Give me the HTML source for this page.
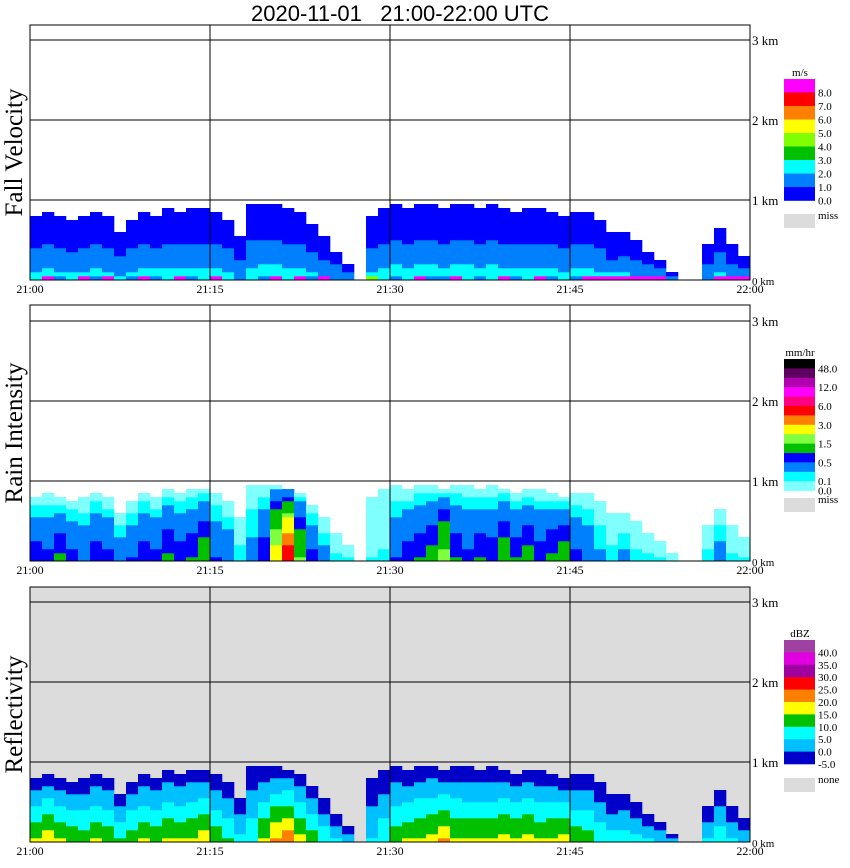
<!DOCTYPE html>
<html><head><meta charset="utf-8"><style>
body{margin:0;background:#fff;}
svg{display:block;}
</style></head><body>
<svg id="chart" width="850" height="868" xmlns="http://www.w3.org/2000/svg" font-family="Liberation Serif, serif">
<text x="400" y="21" text-anchor="middle" font-family="Liberation Sans, sans-serif" font-size="22" style="white-space:pre" xml:space="preserve">2020-11-01   21:00-22:00 UTC</text>
</svg>
<script>
// per-minute data (21:00..21:59)
const minutes = Array.from({length:60},(_,i)=>i);
const tops = [0.8,0.85,0.8,0.75,0.8,0.85,0.8,0.6,0.75,0.85,0.8,0.9,0.85,0.9,0.9,
0.85,0.75,0.5,0.95,0.95,0.95,0.9,0.85,0.7,0.5,0.35,0.2,0,0.8,0.9,
0.95,0.9,0.95,0.95,0.9,0.95,0.95,0.9,0.95,0.9,0.85,0.9,0.9,0.85,0.8,
0.85,0.85,0.75,0.55,0.6,0.45,0.35,0.25,0.1,0,0,0.4,0.65,0.4,0.3];
const fvMid = [2.2,2.3,2.2,2.1,2.2,2.3,2.2,2.0,2.2,2.3,2.3,2.4,2.4,2.3,2.4,
2.4,2.2,2.0,2.3,2.4,2.5,2.4,2.3,2.2,2.1,2.0,1.8,0,2.2,2.3,
2.4,2.3,2.4,2.4,2.3,2.4,2.4,2.3,2.4,2.3,2.3,2.4,2.3,2.3,2.2,
2.3,2.3,2.2,2.1,2.2,2.1,2.0,2.0,1.8,0,0,2.0,2.2,2.1,2.1];
const fvBottom = [2.5,8.5,1.5,2.5,8.5,1.5,8.5,2.5,1.5,8.5,1.5,2.5,8.5,1.5,2.5,
8.5,2.5,1.5,2.5,1.5,8.5,2.5,8.5,1.5,8.5,1.5,1.5,0,4.5,2.0,
1.5,2.5,8.5,1.5,1.5,8.5,2.5,1.5,2.5,8.5,1.5,2.5,8.5,1.5,2.5,
1.5,8.5,8.5,8.5,8.5,8.5,8.5,8.5,1.5,0,0,1.5,8.5,8.5,8.5];
const rainPeak = [0.7,0.6,0.9,0.6,0.45,0.7,0.6,0.4,0.5,0.7,0.6,0.9,0.7,0.8,1.2,
0.5,0.4,0.15,0.3,0.7,2.5,5.0,1.5,0.6,0.3,0.12,0.1,0,0.1,0.12,
0.5,0.7,0.8,1.0,1.8,0.8,0.6,0.8,0.7,1.2,0.8,1.0,0.7,0.9,1.2,
0.6,0.45,0.25,0.15,0.25,0.15,0.12,0.1,0.08,0,0,0.15,0.3,0.12,0.1];
const dbzPeak = [15,17,14,13,12,14,13,10,12,14,13,15,14,15,17,
12,10,6,8,14,19,22,16,12,8,4,2,0,4,8,
12,14,15,16,19,15,14,15,14,16,15,16,14,15,16,
12,11,8,7,7,6,5,3,1,0,0,5,8,4,3];
// colour scales
const fvEdges=[0,1,2,3,4,5,6,7,8];
const fvColors=['#0000ff','#0080ff','#00ffff','#00c000','#80ff00','#ffff00','#ff8000','#ff0000','#ff00ff'];
const rainEdges=[0,0.1,0.2,0.5,0.8,1.5,2,3,4,6,8,12,24,48];
const rainColors=['#80ffff','#00ffff','#0080ff','#0000ff','#00c000','#80ff40','#ffff00','#ff8000','#ff0000','#ff0080','#ff00ff','#b000b0','#600060','#000000'];
const dbzEdges=[-5,0,5,10,15,20,25,30,35,40];
const dbzColors=['#0000c8','#00c0ff','#00ffff','#00c000','#ffff00','#ff8000','#ff0000','#a000a0','#e000e0','#a040a0'];

const NS='http://www.w3.org/2000/svg';
const svg=document.getElementById('chart');
const X0=30,X1=750,KM=80;
const panels=[{top:25,base:280,name:'fall-velocity',title:'Fall Velocity',bg:'#fff'},
{top:305,base:561,name:'rain-intensity',title:'Rain Intensity',bg:'#fff'},
{top:587,base:842,name:'reflectivity',title:'Reflectivity',bg:'#dcdcdc'}];
const xScale=m=>X0+(X1-X0)*m/60;
function mk(tag,attrs,parent){const e=document.createElementNS(NS,tag);for(const k in attrs)e.setAttribute(k,attrs[k]);(parent||svg).appendChild(e);return e;}
function pick(v,edges,colors){let c=null;for(let i=0;i<edges.length;i++){if(v>=edges[i])c=colors[i];}return c;}
const DH=0.05;
panels.forEach((p,pi)=>{
  const g=mk('g',{});
  
  
  const bg=mk('rect',{x:X0,y:p.top,width:X1-X0,height:p.base-p.top,fill:p.bg},g);
  
  
  const yS=h=>p.base-h*KM;
  const cells=mk('g',{},g);
  
  
  minutes.forEach(m=>{
    const top=tops[m]; if(top<=0) return;
    for(let h=0;h<top;h+=DH){
      const f=1-h/top; let v,col;
      if(pi===0){v=(h<0.05)?fvBottom[m]:fvMid[m]*Math.pow(f,1.6)+0.2;col=pick(v,fvEdges,fvColors);}
      else if(pi===1){v=rainPeak[m]*Math.pow(f,1.1);col=pick(v,rainEdges,rainColors);}
      else{v=dbzPeak[m]*Math.pow(f,0.9)-5+6*f;col=pick(v,dbzEdges,dbzColors);}
      if(!col)continue;
      const r=mk('rect',{x:xScale(m),y:yS(h+DH),width:xScale(m+1)-xScale(m)+0.3,height:DH*KM+0.3,fill:col},cells);
      
      
    }
  });
  [1,2,3].forEach(k=>{const l=mk('line',{x1:X0,x2:X1,y1:yS(k),y2:yS(k),stroke:'#000','stroke-width':1},g);
    });
  [15,30,45].forEach(m=>{const l=mk('line',{x1:xScale(m),x2:xScale(m),y1:p.top,y2:p.base,stroke:'#000','stroke-width':1},g);
    });
  const fr=mk('rect',{x:X0,y:p.top,width:X1-X0,height:p.base-p.top,fill:'none',stroke:'#000','stroke-width':1},g);
  
  [0,1,2,3].forEach(k=>{const t=mk('text',{x:752,y:yS(k)+5,'font-size':k===0?11:13},g);t.textContent=k+' km';
    });
  ['21:00','21:15','21:30','21:45','22:00'].forEach((s,i)=>{const t=mk('text',{x:xScale(i*15),y:p.base+13,'font-size':12,'text-anchor':'middle'},g);t.textContent=s;
    });
  const tt=mk('text',{x:0,y:0,'font-size':25,'text-anchor':'middle',transform:`translate(22,${(p.top+p.base)/2}) rotate(-90)`},g);
  tt.textContent=p.title;
});
function legend(name,unit,top,sh,colors,labels,missY,missText){
  const g=mk('g',{});
  const u=mk('text',{x:800,y:top-3,'font-size':11,'text-anchor':'middle'},g);u.textContent=unit;
  
  const n=colors.length;
  colors.slice().reverse().forEach((c,i)=>{const r=mk('rect',{x:784,y:top+i*sh,width:31,height:sh+0.3,fill:c},g);
    });
  labels.forEach(([lab,idx])=>{const t=mk('text',{x:818,y:top+(n-idx)*sh+4,'font-size':11},g);t.textContent=lab;
    });
  const mr=mk('rect',{x:784,y:missY,width:31,height:14,fill:'#dcdcdc'},g);
  
  const mt=mk('text',{x:818,y:missY+5,'font-size':11},g);mt.textContent=missText;
  
}
legend('fall-velocity','m/s',79,13.5,fvColors,[['8.0',8],['7.0',7],['6.0',6],['5.0',5],['4.0',4],['3.0',3],['2.0',2],['1.0',1],['0.0',0]],214,'miss');
legend('rain-intensity','mm/hr',359,9.4,rainColors,[['48.0',13],['12.0',11],['6.0',9],['3.0',7],['1.5',5],['0.5',3],['0.1',1],['0.0',0]],498,'miss');
legend('reflectivity','dBZ',640,12.4,dbzColors,[['40.0',9],['35.0',8],['30.0',7],['25.0',6],['20.0',5],['15.0',4],['10.0',3],['5.0',2],['0.0',1],['-5.0',0]],778,'none');
</script>
</body></html>
